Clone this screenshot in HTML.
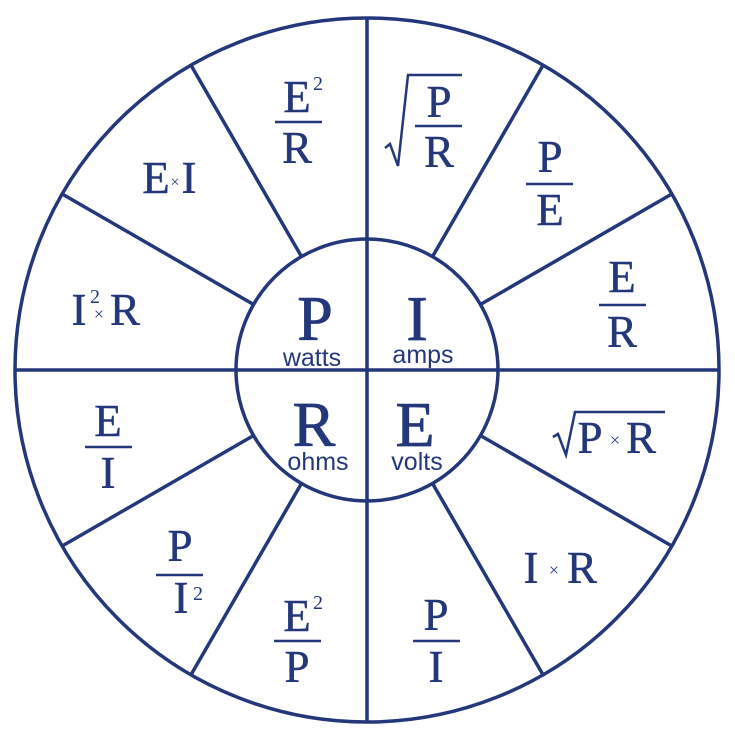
<!DOCTYPE html>
<html><head><meta charset="utf-8"><style>
html,body{margin:0;padding:0;background:#fff;}
svg{display:block;}
.s{font-family:"Liberation Serif",serif;fill:#24377a;stroke:#24377a;stroke-width:0.4;}
.a{font-family:"Liberation Sans",sans-serif;fill:#24377a;}
</style></head><body>
<svg width="735" height="732" viewBox="0 0 735 732" xmlns="http://www.w3.org/2000/svg">
<g stroke="#24377a" stroke-width="3.5" fill="none">
<circle cx="367" cy="370" r="352"/>
<circle cx="367" cy="370" r="131"/>
<line x1="367" y1="18" x2="367" y2="722"/>
<line x1="15" y1="370" x2="719" y2="370"/>
<line x1="432.5" y1="256.6" x2="543" y2="65.2"/>
<line x1="480.4" y1="304.5" x2="671.8" y2="194"/>
<line x1="480.4" y1="435.5" x2="671.8" y2="546"/>
<line x1="432.5" y1="483.4" x2="543" y2="674.8"/>
<line x1="301.5" y1="483.4" x2="191" y2="674.8"/>
<line x1="253.6" y1="435.5" x2="62.2" y2="546"/>
<line x1="253.6" y1="304.5" x2="62.2" y2="194"/>
<line x1="301.5" y1="256.6" x2="191" y2="65.2"/>
</g>
<g stroke="#24377a" stroke-width="2.5" fill="none">
<line x1="275" y1="122" x2="322" y2="122"/>
<line x1="415" y1="126" x2="462" y2="126"/>
<line x1="526" y1="184" x2="573" y2="184"/>
<line x1="599" y1="305" x2="646" y2="305"/>
<line x1="413" y1="641" x2="460" y2="641"/>
<line x1="274" y1="641" x2="321" y2="641"/>
<line x1="156" y1="575" x2="203" y2="575"/>
<line x1="85" y1="447" x2="132" y2="447"/>
<polyline points="385,148 390,144 398,166 408,75 462,75"/>
<polyline points="553,437 558,434 566,455 575,412 665,412"/>
</g>
<g class="s" text-anchor="middle">
<text x="315" y="340" font-size="64" stroke-width="0.8">P</text>
<text x="417" y="340" font-size="64" stroke-width="0.8">I</text>
<text x="314" y="446" font-size="64" stroke-width="0.8">R</text>
<text x="415" y="446" font-size="64" stroke-width="0.8">E</text>
<g font-size="45">
<text x="297" y="112">E</text><text x="318" y="90" font-size="20" stroke-width="0">2</text>
<text x="297" y="163">R</text>
<text x="439" y="117">P</text><text x="439" y="167">R</text>
<text x="550" y="172">P</text><text x="550" y="225">E</text>
<text x="622" y="292">E</text><text x="622" y="347">R</text>
<text x="436" y="630">P</text><text x="436" y="682">I</text>
<text x="297" y="631">E</text><text x="318" y="609" font-size="20" stroke-width="0">2</text>
<text x="297" y="682">P</text>
<text x="180" y="561">P</text><text x="181" y="613">I</text><text x="198" y="600" font-size="20" stroke-width="0">2</text>
<text x="108" y="436">E</text><text x="108" y="488">I</text>
<text x="590" y="453">P</text><text x="615" y="446" font-size="18" stroke-width="0">×</text><text x="641" y="453">R</text>
<text x="531" y="583">I</text><text x="554" y="576" font-size="18" stroke-width="0">×</text><text x="582" y="583">R</text>
<text x="79" y="325">I</text><text x="95" y="303" font-size="20" stroke-width="0">2</text><text x="99" y="320" font-size="18" stroke-width="0">×</text><text x="125" y="325">R</text>
<text x="156" y="193">E</text><text x="175" y="187" font-size="16" stroke-width="0">×</text><text x="189" y="193">I</text>
</g>
</g>
<g class="a" text-anchor="middle" font-size="25">
<text x="312" y="366">watts</text>
<text x="423" y="363">amps</text>
<text x="318" y="470">ohms</text>
<text x="417" y="470">volts</text>
</g>
</svg>
</body></html>
